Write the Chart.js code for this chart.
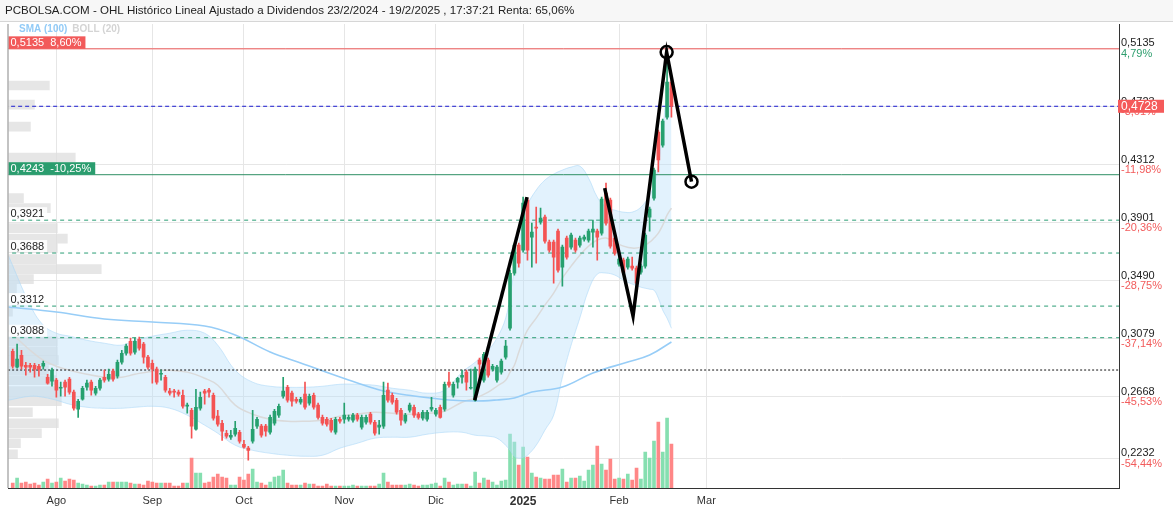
<!DOCTYPE html>
<html><head><meta charset="utf-8">
<script src="https://cdn.jsdelivr.net/npm/chart.js@4.4.1/dist/chart.umd.min.js"></script>
<style>html,body{margin:0;padding:0;background:#fff;overflow:hidden}canvas{display:block}</style>
</head><body>
<canvas id="c" width="1173" height="512" style="width:1173px;height:512px"></canvas>
<script>
// ---------------- DATA ----------------
const titleText = 'PCBOLSA.COM - OHL Histórico Lineal Ajustado a Dividendos 23/2/2024 - 19/2/2025 , 17:37:21 Renta: 65,06%';
const firstDayIndex = -10; // trading-day index of first candle (0 = 1 Ago 2024)
const monthTickIdx = [0, 22, 43, 66, 87, 107, 129, 149];
const monthLabels = ['Ago', 'Sep', 'Oct', 'Nov', 'Dic', '2025', 'Feb', 'Mar'];

const openP = [.2992,.2879,.2964,.2893,.2893,.2893,.2886,.2886,.2808,.2780,
.2787,.2730,.2773,.2794,.2702,.2581,.2652,.2737,.2773,.2695,
.2730,.2808,.2794,.2851,.2815,.2914,.2978,.3063,.2985,.3077,
.3042,.2950,.2907,.2865,.2829,.2808,.2709,.2709,.2702,.2680,
.2602,.2574,.2439,.2588,.2709,.2716,.2680,.2532,.2482,.2411,
.2383,.2404,.2418,.2333,.2305,.2354,.2461,.2461,.2461,.2418,
.2482,.2539,.2673,.2737,.2695,.2652,.2631,.2688,.2624,.2680,
.2610,.2524,.2510,.2503,.2418,.2510,.2510,.2510,.2503,.2539,
.2454,.2489,.2546,.2489,.2454,.2461,.2716,.2680,.2645,.2574,
.2496,.2574,.2595,.2546,.2517,.2510,.2581,.2546,.2595,.2581,
.2773,.2680,.2773,.2808,.2844,.2730,.2645,.2929,.2787,.2929,
.2865,.2787,.2844,.2950,.3155,.3545,.3744,.3708,.4063,.3801,
.3872,.3907,.3942,.3765,.3765,.3843,.3588,.3794,.3730,.3779,
.3744,.3786,.3779,.3836,.3843,.3829,.4113,.4063,.3794,.3609,
.3638,.3588,.3595,.3581,.3553,.3595,.3942,.4077,.4545,.4453,
.4651,.4900];
const highP = [.3007,.3042,.2999,.2914,.2907,.2907,.2900,.2922,.2829,.2872,
.2801,.2773,.2787,.2808,.2716,.2652,.2744,.2787,.2787,.2744,
.2801,.2858,.2865,.2865,.2929,.2999,.3042,.3085,.3085,.3092,
.3056,.2964,.2929,.2879,.2858,.2822,.2730,.2723,.2716,.2716,
.2624,.2588,.2723,.2702,.2723,.2730,.2695,.2574,.2503,.2432,
.2432,.2496,.2432,.2361,.2319,.2574,.2524,.2475,.2475,.2539,
.2581,.2617,.2808,.2751,.2709,.2666,.2666,.2773,.2688,.2695,
.2624,.2539,.2524,.2517,.2524,.2524,.2624,.2539,.2553,.2553,
.2539,.2539,.2560,.2503,.2503,.2773,.2766,.2695,.2659,.2588,
.2553,.2624,.2610,.2560,.2574,.2574,.2666,.2588,.2610,.2773,
.2844,.2773,.2808,.2858,.2858,.2865,.2879,.2943,.2985,.2943,
.2900,.2893,.2936,.3070,.3567,.3758,.3758,.4084,.4077,.3900,
.4013,.4006,.3957,.3779,.3779,.3857,.3744,.3808,.3829,.3794,
.3808,.3815,.3857,.3921,.3857,.4084,.4184,.4077,.3808,.3659,
.3652,.3659,.3659,.3595,.3609,.3829,.4013,.4290,.4559,.4637,
.5135,.4914];
const lowP = [.2872,.2872,.2865,.2822,.2844,.2808,.2815,.2865,.2758,.2744,
.2666,.2673,.2673,.2688,.2574,.2524,.2645,.2716,.2680,.2680,
.2716,.2773,.2780,.2780,.2801,.2900,.2964,.2964,.2971,.2999,
.2907,.2865,.2766,.2758,.2787,.2702,.2680,.2666,.2673,.2588,
.2553,.2376,.2432,.2574,.2617,.2666,.2503,.2461,.2361,.2376,
.2368,.2390,.2340,.2305,.2220,.2340,.2446,.2383,.2390,.2404,
.2468,.2524,.2659,.2631,.2602,.2624,.2617,.2581,.2610,.2581,
.2510,.2468,.2461,.2418,.2404,.2482,.2482,.2496,.2489,.2496,
.2439,.2475,.2475,.2397,.2404,.2446,.2631,.2617,.2546,.2468,
.2482,.2560,.2524,.2510,.2503,.2496,.2567,.2532,.2517,.2567,
.2737,.2666,.2730,.2766,.2716,.2723,.2638,.2787,.2773,.2808,
.2851,.2773,.2829,.2936,.3141,.3531,.3588,.3694,.3638,.3588,
.3616,.3893,.3758,.3694,.3475,.3553,.3453,.3645,.3716,.3694,
.3730,.3772,.3765,.3730,.3638,.3815,.3886,.3723,.3673,.3595,
.3538,.3574,.3567,.3460,.3538,.3581,.3843,.4063,.4262,.4439,
.4637,.4651];
const closeP = [.2886,.2936,.2886,.2879,.2879,.2865,.2865,.2907,.2766,.2858,
.2716,.2737,.2737,.2702,.2588,.2638,.2730,.2766,.2716,.2730,
.2787,.2787,.2829,.2794,.2914,.2978,.3028,.2978,.3063,.3014,
.2950,.2879,.2865,.2773,.2836,.2716,.2695,.2702,.2688,.2602,
.2610,.2461,.2595,.2666,.2695,.2702,.2517,.2475,.2425,.2390,
.2397,.2446,.2354,.2312,.2290,.2439,.2510,.2397,.2425,.2524,
.2567,.2602,.2709,.2645,.2638,.2638,.2652,.2595,.2673,.2595,
.2524,.2482,.2475,.2432,.2510,.2496,.2539,.2524,.2539,.2510,
.2524,.2524,.2489,.2411,.2468,.2680,.2645,.2631,.2560,.2503,
.2539,.2610,.2539,.2524,.2560,.2560,.2595,.2574,.2524,.2758,
.2751,.2758,.2801,.2822,.2773,.2737,.2865,.2900,.2971,.2822,
.2886,.2879,.2922,.3028,.3545,.3744,.3616,.4042,.3708,.3836,
.3864,.3935,.3772,.3708,.3659,.3567,.3730,.3659,.3815,.3708,
.3794,.3801,.3843,.3857,.3801,.4070,.3900,.3737,.3687,.3645,
.3553,.3645,.3581,.3475,.3595,.3815,.3999,.4276,.4347,.4623,
.4900,.4728];
// volume, millions of shares
const volumeM = [1.0,2.0,1.0,1.2,0.8,1.0,0.6,1.2,1.8,1.0,
1.2,2.0,1.4,1.8,1.6,1.0,0.8,0.6,0.4,0.4,
0.6,0.6,1.2,1.2,1.2,1.2,1.2,1.0,0.8,0.8,
0.6,1.4,1.2,1.0,1.0,1.0,1.0,0.4,0.4,1.0,
1.0,6.0,3.0,3.0,1.0,1.2,2.2,2.8,2.2,2.0,
0.6,0.6,2.2,1.6,2.8,3.8,1.2,1.0,0.6,1.2,
2.2,2.4,3.6,
1.0,0.6,0.6,0.6,1.0,0.8,0.8,0.4,0.4,0.8,
0.4,0.4,0.4,0.4,0.4,0.6,0.4,0.4,0.4,0.4,
0.4,0.8,3.0,1.2,0.6,0.6,0.6,0.6,0.8,0.6,
0.4,0.6,0.6,0.8,1.0,0.4,2.0,1.2,0.6,0.8,
0.8,0.8,0.4,3.2,1.0,2.0,1.6,1.2,0.6,1.4,1.6,
10.8,9.2,4.6,8.2,6.2,3.0,2.2,2.0,1.8,1.8,
2.6,2.6,3.8,1.2,2.0,2.0,2.4,1.4,3.6,4.6,
8.4,4.8,3.6,5.8,1.8,2.0,1.8,2.8,1.6,4.0,
1.8,7.2,6.0,9.4,13.2,7.2,14.0,8.8];

// Bollinger (20) and SMA (100), read at sample days
const bbIdx = [-11,-6,-3,0,3,7,11,15,18,22,26,30,34,37,41,45,49,53,57,61,65,69,73,77,81,85,89,93,96,99,101,103,104,105,106,107,108,110,112,114,116,118,120,122,124,126,128,130,132,134,136,137,138,139,140,141];
const bbUpper = [.3670,.3319,.3177,.3120,.3099,.3070,.3049,.3035,.3070,.3099,.3120,.3141,.3120,.3035,.2858,.2773,.2744,.2737,.2737,.2744,.2758,.2758,.2751,.2730,.2716,.2695,.2716,.2844,.2914,.2999,.3085,.3226,.3389,.3567,.3744,.3907,.4028,.4134,.4205,.4247,.4276,.4297,.4304,.4219,.4084,.4013,.3992,.3978,.3978,.4013,.4098,.4169,.4311,.4559,.4807,.4878];
const bbMid = [.3141,.2999,.2929,.2886,.2858,.2829,.2808,.2808,.2829,.2851,.2858,.2844,.2801,.2751,.2610,.2546,.2510,.2496,.2496,.2503,.2532,.2546,.2560,.2553,.2546,.2553,.2567,.2631,.2659,.2702,.2744,.2787,.2844,.2893,.2985,.3071,.3142,.3227,.3319,.3404,.3510,.3595,.3673,.3737,.3780,.3794,.3765,.3737,.3723,.3730,.3765,.3794,.3829,.3886,.3957,.4006];
const bbLower = [.2645,.2673,.2666,.2645,.2617,.2595,.2588,.2588,.2595,.2602,.2588,.2539,.2468,.2411,.2326,.2290,.2269,.2255,.2248,.2255,.2305,.2340,.2376,.2383,.2383,.2404,.2418,.2418,.2397,.2390,.2376,.2326,.2290,.2248,.2234,.2241,.2255,.2326,.2433,.2539,.2808,.3035,.3227,.3425,.3539,.3546,.3532,.3496,.3468,.3446,.3432,.3425,.3368,.3283,.3226,.3155];
const smaIdx = [-11,0,11,22,34,41,49,56,67,75,82,90,96,101,105,109,116,123,131,136,141];
const sma100 = [.3306,.3270,.3221,.3199,.3171,.3107,.2987,.2909,.2788,.2710,.2675,.2647,.2639,.2647,.2661,.2703,.2739,.2838,.2916,.2965,.3058];

// volume-at-price profile
const profilePrice = [.4875,.4740,.4584,.4364,.4077,.4006,.3864,.3790,.3723,.3645,.3574,.3503,.3436,.3272,.3063,.2992,.2929,.2858,.2787,.2709,.2638,.2560,.2482,.2411,.2340,.2262];
const profileVol = [41,26,22,67,15,42,49,59,49,48,93,25,8,4,49,49,50,40,48,53,53,24,50,33,12,9];

// price axis
const priceTicks = [0.5135, 0.4723, 0.4312, 0.3901, 0.3490, 0.3079, 0.2668, 0.2232];
const priceTickLabels = ['0,5135','0,4723','0,4312','0,3901','0,3490','0,3079','0,2668','0,2232'];
const pctTickLabels = ['4,79%','-3,61%','-11,98%','-20,36%','-28,75%','-37,14%','-45,53%','-54,44%'];

// horizontal levels
const levelValues = [0.5135, 0.4728, 0.4243, 0.3921, 0.3688, 0.3312, 0.3088, 0.2859];
const levelLabels = ['0,5135  8,60%', '', '0,4243  -10,25%', '0,3921', '0,3688', '0,3312', '0,3088', ''];
const lastPrice = 0.4728, lastPriceLabel = '0,4728';

// hand-drawn trend annotations (day index, price)
const trendAx = [95.9, 107.9], trendAy = [0.2645, 0.4084];
const zigX = [125.7, 132.2, 139.9, 145.6], zigY = [0.4148, 0.3241, 0.5112, 0.4194];

// ---------------- CHART ----------------
const GREEN = '#26a06f', RED = '#f45353', VGREEN = '#86dfb0', VRED = '#ff8787';
const FONT = '"Liberation Sans", Arial, sans-serif';
Chart.defaults.font.family = FONT;

const dayIdx = openP.map((_, k) => firstDayIndex + k);
const isUp = k => closeP[k] >= openP[k];
const X_MIN = -10.97, X_MAX = 243.6, Y_MIN = 0.2023, Y_MAX = 0.5311;

const levelStyle = [
  {c:'#f05a5a', d:[]}, {c:'#1a1ad0', d:[4,3]}, {c:'#2e8f64', d:[]},
  {c:'#2a9d74', d:[4,4]}, {c:'#2a9d74', d:[4,4]}, {c:'#2a9d74', d:[4,4]}, {c:'#2a9d74', d:[4,4]},
  {c:'#111111', d:[2,2]}
];

const datasets = [];
datasets.push({type:'line', order:0, data: zigX.map((x,k)=>({x, y:zigY[k]})), borderColor:'#000', borderWidth:3.5,
  pointRadius:[0,0,6,6], pointBorderWidth:2.5, pointBorderColor:'#000', pointBackgroundColor:'rgba(0,0,0,0)', tension:0, clip:false});
datasets.push({type:'line', order:0, data: trendAx.map((x,k)=>({x, y:trendAy[k]})), borderColor:'#000', borderWidth:3.5, pointRadius:0, tension:0});
datasets.push({type:'bar', order:1, grouped:false, barThickness:3, minBarLength:1, borderWidth:0,
  data: dayIdx.map((x,k)=>({x, y:[openP[k], closeP[k]]})),
  backgroundColor: dayIdx.map((_,k)=> isUp(k) ? GREEN : RED)});
datasets.push({type:'bar', order:2, grouped:false, barThickness:1, borderWidth:0,
  data: dayIdx.map((x,k)=>({x, y:[lowP[k], highP[k]]})),
  backgroundColor: dayIdx.map((_,k)=> isUp(k) ? GREEN : RED)});
levelValues.forEach((v,k)=>{
  datasets.push({type:'line', order:3, data:[{x:X_MIN-1,y:v},{x:X_MAX+1,y:v}], borderColor:levelStyle[k].c,
    borderDash:levelStyle[k].d, borderWidth:1, pointRadius:0});
});
datasets.push({type:'line', order:4, data: smaIdx.map((x,k)=>({x, y:sma100[k]})), borderColor:'#97cdf7', borderWidth:1.6, pointRadius:0, tension:0.4});
datasets.push({type:'line', order:5, data: bbIdx.map((x,k)=>({x, y:bbMid[k]})), borderColor:'#dadada', borderWidth:1.5, pointRadius:0, tension:0.4});
datasets.push({type:'line', order:6, data: bbIdx.map((x,k)=>({x, y:bbUpper[k]})), borderColor:'rgba(170,215,247,0.55)', borderWidth:1, pointRadius:0, tension:0.4, fill:false});
datasets.push({type:'line', order:6, data: bbIdx.map((x,k)=>({x, y:bbLower[k]})), borderColor:'rgba(170,215,247,0.55)', borderWidth:1, pointRadius:0, tension:0.4,
  fill:'-1', backgroundColor:'rgba(186,224,250,0.42)'});
datasets.push({type:'bar', order:7, grouped:false, yAxisID:'yv', barThickness:3, borderWidth:0,
  data: dayIdx.map((x,k)=>({x, y:volumeM[k]})),
  backgroundColor: dayIdx.map((_,k)=> isUp(k) ? VGREEN : VRED)});
datasets.push({type:'bar', order:8, grouped:false, indexAxis:'y', xAxisID:'xp', yAxisID:'y', barThickness:9, borderWidth:0,
  data: profilePrice.map((p,k)=>({x:profileVol[k], y:p})), backgroundColor:'rgba(222,222,222,0.75)'});

const decor = {
  id:'decor',
  beforeDraw(chart){
    const ctx = chart.ctx;
    ctx.save();
    ctx.fillStyle = '#fff'; ctx.fillRect(0,0,chart.width,chart.height);
    ctx.fillStyle = '#f7f7f7'; ctx.fillRect(0,0,chart.width,21);
    ctx.fillStyle = '#d6d6d6'; ctx.fillRect(0,21,chart.width,1);
    let fs = 13;
    ctx.font = fs + 'px ' + FONT;
    const w = ctx.measureText(titleText).width;
    fs = Math.min(14, fs * 570 / w);
    ctx.font = fs + 'px ' + FONT;
    ctx.fillStyle = '#222'; ctx.textAlign='left'; ctx.textBaseline='middle';
    ctx.fillText(titleText, 5, 11);
    ctx.restore();
  },
  afterDatasetsDraw(chart){
    const ctx = chart.ctx, ys = chart.scales.y, ca = chart.chartArea;
    ctx.save();
    ctx.font = 'bold 10px ' + FONT; ctx.textBaseline='middle'; ctx.textAlign='left';
    ctx.fillStyle = '#92cbf7'; ctx.fillText('SMA (100)', 19, 29);
    const sw = ctx.measureText('SMA (100)').width;
    ctx.fillStyle = '#d4d4d4'; ctx.fillText('BOLL (20)', 19 + sw + 5, 29);
    ctx.font = '11px ' + FONT;
    levelValues.forEach((v,k)=>{
      const t = levelLabels[k]; if(!t) return;
      const py = ys.getPixelForValue(v);
      const tw = ctx.measureText(t).width;
      if (k === 0 || k === 2) {
        ctx.fillStyle = k === 0 ? '#f25a5a' : '#2a9d6e';
        ctx.fillRect(ca.left, py - 12.5, tw + 6, 12.5);
        ctx.fillStyle = '#fff';
        ctx.fillText(t, ca.left + 2, py - 6);
      } else {
        ctx.fillStyle = 'rgba(255,255,255,0.85)';
        ctx.fillRect(ca.left, py - 13, tw + 5, 12);
        ctx.fillStyle = '#222';
        ctx.fillText(t, ca.left + 2, py - 6.5);
      }
    });
    ctx.fillStyle = '#888'; ctx.fillRect(ca.left - 1, ca.top, 1, ca.bottom - ca.top);
    ctx.restore();
  },
  afterDraw(chart){
    const ctx = chart.ctx, ys = chart.scales.y;
    ctx.save();
    ctx.font = '11px ' + FONT; ctx.textAlign='left'; ctx.textBaseline='middle';
    priceTicks.forEach((v,k)=>{
      const py = ys.getPixelForValue(v);
      ctx.fillStyle = '#222'; ctx.fillText(priceTickLabels[k], ys.left + 2, py - 5.5);
      ctx.fillStyle = pctTickLabels[k].startsWith('-') ? '#f25c5c' : '#2e9e6e';
      ctx.fillText(pctTickLabels[k], ys.left + 2, py + 5);
    });
    const py = ys.getPixelForValue(lastPrice);
    ctx.fillStyle = '#f55a5a'; ctx.fillRect(ys.left - 1, py - 6.5, 46, 13);
    ctx.font = '12px ' + FONT; ctx.fillStyle = '#fff';
    ctx.fillText(lastPriceLabel, ys.left + 2, py);
    ctx.restore();
  }
};

new Chart(document.getElementById('c'), {
  type:'line',
  data:{datasets},
  options:{
    responsive:false, animation:false, devicePixelRatio:1, events:[],
    layout:{padding:{left:5, top:24, right:0, bottom:0}},
    plugins:{legend:{display:false}, tooltip:{enabled:false}},
    scales:{
      x:{type:'linear', min:X_MIN, max:X_MAX, offset:false,
        afterBuildTicks:s=>{ s.ticks = monthTickIdx.map(v=>({value:v})); },
        afterFit:s=>{ s.height = 24; },
        ticks:{autoSkip:false, maxRotation:0, minRotation:0, padding:6, color:'#333',
          callback:v=>monthLabels[monthTickIdx.indexOf(v)],
          font:c=>(c.tick && /^\d{4}$/.test(c.tick.label)) ? {size:12, weight:'bold', family:FONT} : {size:11, family:FONT}},
        grid:{color:'#e6e6e6', drawTicks:false, offset:false},
        border:{color:'#333', width:1}},
      y:{type:'linear', position:'right', min:Y_MIN, max:Y_MAX, offset:false,
        afterBuildTicks:s=>{ s.ticks = priceTicks.map(v=>({value:v})); },
        afterFit:s=>{ s.width = 54; },
        ticks:{display:false},
        grid:{color:'#e6e6e6', drawTicks:false, offset:false},
        border:{color:'#333', width:1}},
      yv:{type:'linear', axis:'y', position:'left', display:false, min:0, max:92.8, offset:false},
      xp:{type:'linear', axis:'x', position:'top', display:false, min:0, max:1114, offset:false}
    }
  },
  plugins:[decor]
});
</script>
</body></html>
